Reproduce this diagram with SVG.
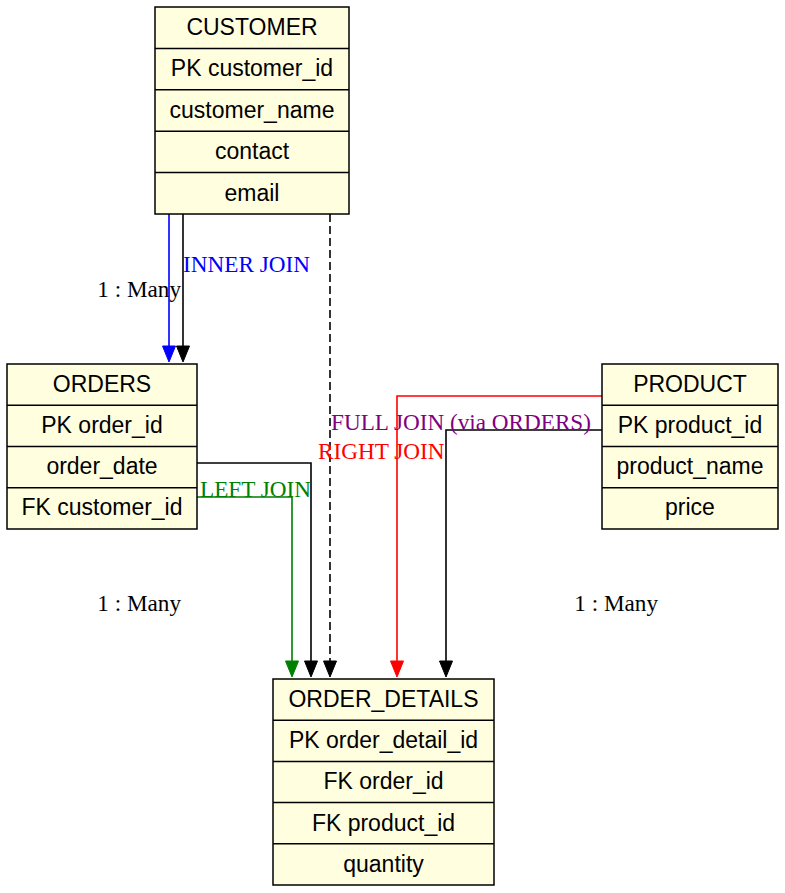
<svg xmlns="http://www.w3.org/2000/svg" width="785" height="893" viewBox="0 0 785 893">
<style>
.box{fill:#ffffe0;stroke:#000;stroke-width:1.5}
.sep{stroke:#000;stroke-width:1.5}
.t{font-family:"Liberation Sans",Arial,sans-serif;font-size:23px;text-anchor:middle;fill:#000}
.lbl{font-family:"Liberation Serif","Times New Roman",serif;font-size:23.2px}
.e{fill:none;stroke-width:1.6}
</style>
<rect width="785" height="893" fill="#fff"/>
<g id="connectors">
<path class="e" stroke="#0000ff" d="M169,214 V348"/>
<path d="M162.5,346 L175.5,346 L169,362 Z" fill="#0000ff" stroke="#0000ff"/>
<path class="e" stroke="#000" d="M183,214 V348"/>
<path d="M176.5,346 L189.5,346 L183,362 Z" fill="#000" stroke="#000"/>
<path class="e" stroke="#000" stroke-dasharray="8,4" d="M330,214 V663"/>
<path d="M323.5,661 L336.5,661 L330,677 Z" fill="#000" stroke="#000"/>
<path class="e" stroke="#000" d="M197,463 H311 V663"/>
<path d="M304.5,661 L317.5,661 L311,677 Z" fill="#000" stroke="#000"/>
<path class="e" stroke="#008000" d="M197,497 H292 V663"/>
<path d="M285.5,661 L298.5,661 L292,677 Z" fill="#008000" stroke="#008000"/>
<path class="e" stroke="#ff0000" d="M602,396 H397 V663"/>
<path d="M390.5,661 L403.5,661 L397,677 Z" fill="#ff0000" stroke="#ff0000"/>
<path class="e" stroke="#000" d="M602,430 H446 V663"/>
<path d="M439.5,661 L452.5,661 L446,677 Z" fill="#000" stroke="#000"/>
<text class="lbl" x="183" y="272" fill="#0000ff">INNER JOIN</text>
<text class="lbl" x="181" y="297" fill="#000" text-anchor="end">1 : Many</text>
<text class="lbl" x="200" y="497" fill="#008000">LEFT JOIN</text>
<text class="lbl" x="181" y="611" fill="#000" text-anchor="end">1 : Many</text>
<text class="lbl" x="658" y="611" fill="#000" text-anchor="end">1 : Many</text>
<text class="lbl" x="331" y="430" fill="#800080">FULL JOIN (via ORDERS)</text>
<text class="lbl" x="318" y="459" fill="#ff0000">RIGHT JOIN</text>
</g>
<g id="CUSTOMER">
<rect class="box" x="155" y="7" width="194" height="207"/>
<path class="sep" d="M155,48.4 H349 M155,89.8 H349 M155,131.2 H349 M155,172.6 H349"/>
<text class="t" x="252" y="35">CUSTOMER</text>
<text class="t" x="252" y="76">PK customer_id</text>
<text class="t" x="252" y="117.5">customer_name</text>
<text class="t" x="252" y="159">contact</text>
<text class="t" x="252" y="200.5">email</text>
</g>
<g id="ORDERS">
<rect class="box" x="7" y="364" width="190" height="165"/>
<path class="sep" d="M7,405.25 H197 M7,446.5 H197 M7,487.75 H197"/>
<text class="t" x="102" y="391.5">ORDERS</text>
<text class="t" x="102" y="432.5">PK order_id</text>
<text class="t" x="102" y="474">order_date</text>
<text class="t" x="102" y="515">FK customer_id</text>
</g>
<g id="PRODUCT">
<rect class="box" x="602" y="364" width="176" height="165"/>
<path class="sep" d="M602,405.25 H778 M602,446.5 H778 M602,487.75 H778"/>
<text class="t" x="690" y="391.5">PRODUCT</text>
<text class="t" x="690" y="432.5">PK product_id</text>
<text class="t" x="690" y="474">product_name</text>
<text class="t" x="690" y="515">price</text>
</g>
<g id="ORDER_DETAILS">
<rect class="box" x="273" y="679" width="221" height="206"/>
<path class="sep" d="M273,720.2 H494 M273,761.4 H494 M273,802.6 H494 M273,843.8 H494"/>
<text class="t" x="383.5" y="706.5">ORDER_DETAILS</text>
<text class="t" x="383.5" y="748">PK order_detail_id</text>
<text class="t" x="383.5" y="789">FK order_id</text>
<text class="t" x="383.5" y="830.5">FK product_id</text>
<text class="t" x="383.5" y="871.5">quantity</text>
</g>
</svg>
